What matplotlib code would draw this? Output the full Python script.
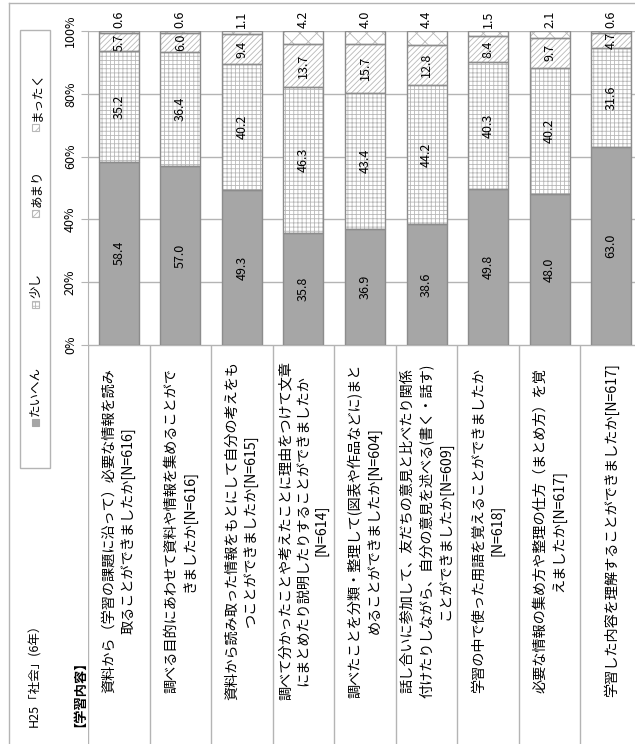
import matplotlib
matplotlib.use('Agg')
import matplotlib.pyplot as plt
from matplotlib.patches import Rectangle
from matplotlib.lines import Line2D

plt.rcParams['font.family'] = ['Noto Sans CJK JP', 'DejaVu Sans']
plt.rcParams['hatch.linewidth'] = 0.6

W, H = 635, 744

categories = [
    '資料から（学習の課題に沿って）必要な情報を読み\n取ることができましたか[N=616]',
    '調べる目的にあわせて資料や情報を集めることがで\nきましたか[N=616]',
    '資料から読み取った情報をもとにして自分の考えをも\nつことができましたか[N=615]',
    '調べて分かったことや考えたことに理由をつけて文章\nにまとめたり説明したりすることができましたか\n[N=614]',
    '調べたことを分類・整理して(図表や作品などに)まと\nめることができましたか[N=604]',
    '話し合いに参加して、友だちの意見と比べたり関係\n付けたりしながら、自分の意見を述べる(書く・話す)\nことができましたか[N=609]',
    '学習の中で使った用語を覚えることができましたか\n[N=618]',
    '必要な情報の集め方や整理の仕方（まとめ方）を覚\nえましたか[N=617]',
    '学習した内容を理解することができましたか[N=617]',
]
series_names = ['たいへん', '少し', 'あまり', 'まったく']
taihen = [58.4, 57.0, 49.3, 35.8, 36.9, 38.6, 49.8, 48.0, 63.0]
sukoshi = [35.2, 36.4, 40.2, 46.3, 43.4, 44.2, 40.3, 40.2, 31.6]
amari = [5.7, 6.0, 9.4, 13.7, 15.7, 12.8, 8.4, 9.7, 4.7]
mattaku = [0.6, 0.6, 1.1, 4.2, 4.0, 4.4, 1.5, 2.1, 0.6]
yticks = [0, 20, 40, 60, 80, 100]
title = 'H25「社会」(6年）'
subtitle = '【学習内容】'

styles = [
    dict(fc='#a6a6a6', hatch=None, hc='#a6a6a6'),
    dict(fc='white', hatch='++++', hc='#b8b8b8'),
    dict(fc='white', hatch='//////', hc='#b8b8b8'),
    dict(fc='white', hatch='xx', hc='#b8b8b8'),
]
edge = '#8c8c8c'
grid = '#b4b4b4'


def px(x, y):
    return x / W, 1 - y / H


fig = plt.figure(figsize=(W / 100, H / 100), dpi=100)
ax = fig.add_axes([88 / W, (H - 345) / H, 554 / W, 314 / H])

x = list(range(len(categories)))
data = [taihen, sukoshi, amari, mattaku]
bottom = [0.0] * len(x)
for vals, st in zip(data, styles):
    ax.bar(x, vals, 0.65, bottom=bottom, color=st['fc'], edgecolor=st['hc'],
           hatch=st['hatch'], linewidth=0, zorder=2)
    ax.bar(x, vals, 0.65, bottom=bottom, fill=False, edgecolor=edge,
           linewidth=1, zorder=3)
    bottom = [b + v for b, v in zip(bottom, vals)]

# data labels
bottom = [0.0] * len(x)
for si, vals in enumerate(data):
    for i, v in enumerate(vals):
        if si < 3:
            ax.text(i, bottom[i] + v / 2, f'{v:.1f}', rotation=90, ha='center',
                    va='center', fontsize=9, zorder=4)
        else:
            ax.text(i, 100.8, f'{v:.1f}', rotation=90, ha='center',
                    va='bottom', fontsize=9, zorder=4, clip_on=False)
    bottom = [b + v for b, v in zip(bottom, vals)]

ax.set_xlim(-0.5, 8.5)
ax.set_ylim(0, 100)
ax.set_yticks(yticks)
ax.set_yticklabels([f'{t}%' for t in yticks], rotation=90, va='center', fontsize=9)
ax.set_xticks([])
ax.set_axisbelow(True)
ax.yaxis.grid(True, color=grid, linewidth=1)
for s in ['top', 'right', 'bottom']:
    ax.spines[s].set_visible(False)
ax.spines['left'].set_color(grid)
ax.tick_params(axis='y', length=5, color=grid, pad=3)

# table of item labels
tab = fig.add_axes([88 / W, 0, 554 / W, (H - 345) / H])
tab.set_xlim(-0.5, 8.5)
tab.set_ylim(0, 1)
tab.axis('off')
tab.vlines([k - 0.5 for k in range(len(categories) + 1)], 0, 1, color=grid, linewidth=1)
tab.axhline(1, color=grid, linewidth=1)
for i, c in enumerate(categories):
    tab.text(i, 0.535, c, rotation=90, ha='center', va='center',
             multialignment='center', fontsize=10.2, linespacing=1.35)

# frame lines
fig.add_artist(Line2D([9 / W, 9 / W], [0, 1 - 3 / H], color=grid, linewidth=1))
fig.add_artist(Line2D([9 / W, 1], [1 - 3 / H, 1 - 3 / H], color=grid, linewidth=1))

# titles
fig.text(*px(35, 727), title, rotation=90, ha='center', va='bottom', fontsize=9)
fig.text(*px(73, 727), subtitle, rotation=90, ha='center', va='bottom', fontsize=9.5,
         fontweight='bold')

# legend
fig.add_artist(Rectangle(px(20, 468), 30 / W, 438 / H, transform=fig.transFigure,
                         fill=False, edgecolor=grid, linewidth=1))
marker_y = [422, 304, 213, 127]
for name, my, st in zip(series_names, marker_y, styles):
    fig.add_artist(Rectangle(px(31.5, my + 3.5), 7 / W, 7 / H, transform=fig.transFigure,
                             facecolor=st['fc'], edgecolor=st['hc'], hatch=st['hatch'],
                             linewidth=0.8))
    fig.text(*px(36, my - 6), name, rotation=90, ha='center', va='bottom', fontsize=9)

fig.savefig('out.png', dpi=100)
